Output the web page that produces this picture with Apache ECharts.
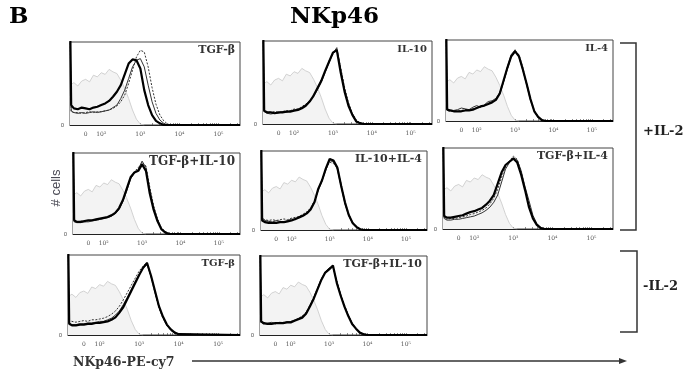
<!DOCTYPE html>
<html>
<head>
<meta charset="utf-8">
<script src="https://cdn.jsdelivr.net/npm/echarts@6.0.0/dist/echarts.min.js"></script>
<style>
  html, body { margin: 0; padding: 0; background: #fff; }
  #main { width: 688px; height: 374px; }
</style>
</head>
<body>
<div id="main"></div>
<script>
// x in display units of the biexponential axis: 2 = 10^2, 3 = 10^3 ...
const X_GRID = [1.2, 1.23, 1.3, 1.4, 1.5, 1.6, 1.7, 1.8, 1.9, 2.0, 2.1, 2.2, 2.3, 2.4, 2.5, 2.6, 2.7, 2.8, 2.9, 3.0, 3.1, 3.2, 3.3, 3.4, 3.5, 3.6, 3.7, 3.8, 3.9, 4.0, 5.55];

// isotype control (grey filled), same in every panel
const ISO_X = [1.2, 1.3, 1.4, 1.5, 1.6, 1.7, 1.8, 1.9, 2.0, 2.1, 2.2, 2.3, 2.4, 2.5, 2.6, 2.7, 2.8, 2.9, 3.0, 3.1];
const ISO_Y = [48, 51, 47, 53, 55, 52, 60, 58, 63, 61, 67, 64, 62, 54, 44, 32, 18, 7, 1, 0];

const X_TICKS = [1.6, 2, 3, 4, 5];
const X_TICK_LABELS = ['0', '10²', '10³', '10⁴', '10⁵'];
const MINOR_OFFSETS = [0.301, 0.477, 0.602, 0.699, 0.778, 0.845, 0.903, 0.954];
const LINEAR_TICKS = [1.3, 1.4, 1.5, 1.6, 1.7, 1.8, 1.9];

const PANEL_NAMES = ['TGF-β', 'IL-10', 'IL-4', 'TGF-β+IL-10', 'IL-10+IL-4', 'TGF-β+IL-4', 'TGF-β', 'TGF-β+IL-10'];

const P1_THICK = [140,24,20,19,21,20,19,21,22,24, 26,29,34,40,48,61,74,79,78,68, 42,24,12,5,2,0,0,0,0,0,0];
const P1_THIN  = [130,17,15,14,15,14,15,16,15,16, 17,18,21,24,32,42,56,70,78,80, 70,48,28,14,6,2,0,0,0,0,0];
const P1_DASH  = [120,16,15,15,14,15,16,15,16,16, 17,18,20,23,28,36,50,66,82,90, 88,70,45,25,12,5,1,0,0,0,0];

const P2_THICK = [140,16,14,14,13,14,14,15,15,16, 17,19,22,27,34,43,52,64,75,86, 89,62,39,22,11,3,1,0,0,0,0];
const P2_THIN  = [130,15,13,12,13,13,15,14,16,17, 18,20,23,28,33,41,50,62,74,85, 92,66,42,24,12,4,1,0,0,0,0];
const P2_DASH  = [120,17,15,14,15,14,15,16,16,18, 18,21,24,27,35,42,53,63,76,84, 90,68,44,26,13,5,1,0,0,0,0];

const P3_THICK = [140,14,13,12,12,12,13,13,14,16, 18,19,21,23,26,34,50,66,80,86, 80,64,46,27,12,5,1,0,0,0,0];
const P3_THIN  = [130,15,14,13,14,16,15,14,17,19, 17,20,24,25,28,35,49,67,82,88, 79,63,45,26,12,4,1,0,0,0,0];
const P3_DASH  = [120,13,12,13,12,13,14,14,15,16, 17,19,22,24,27,33,48,64,79,85, 82,66,47,28,13,5,1,0,0,0,0];

const P4_THICK = [140,17,15,15,16,17,17,18,19,20, 21,23,26,32,42,56,70,76,78,86, 78,50,30,16,6,2,0,0,0,0,0];
const P4_THIN  = [130,15,14,14,15,15,16,17,18,19, 20,22,25,30,40,53,68,75,80,90, 82,55,33,18,7,2,0,0,0,0,0];
const P4_DASH  = [120,16,15,16,15,16,17,17,18,20, 21,23,26,31,41,55,69,77,82,88, 84,58,35,19,8,3,1,0,0,0,0];

const P5_THICK = [140,12,10,9,9,9,10,10,11,12, 14,16,18,21,26,35,52,63,78,90, 88,79,56,35,19,9,4,1,0,0,0];
const P5_THIN  = [130,14,12,11,10,12,11,10,12,14, 13,17,19,22,27,36,50,62,76,88, 86,77,55,33,18,8,3,1,0,0,0];
const P5_DASH  = [120,15,13,12,13,12,13,14,13,15, 16,17,20,23,28,37,51,64,77,86, 84,80,58,36,20,10,4,1,0,0,0];

const P6_THICK = [140,16,14,14,15,16,17,19,21,22, 24,26,30,35,42,56,70,79,83,87, 82,67,48,27,13,5,1,0,0,0,0];
const P6_THIN  = [130,13,11,11,12,12,13,14,15,16, 18,20,23,27,33,42,58,74,82,88, 85,72,52,35,17,7,2,0,0,0,0];
const P6_DASH  = [120,14,12,13,13,14,15,16,18,19, 21,23,26,31,38,49,64,77,84,90, 86,70,50,31,15,6,2,0,0,0,0];

const P7_THICK = [140,14,12,12,13,13,14,14,15,15, 16,17,19,22,28,35,45,55,65,75, 84,90,74,55,36,23,13,7,3,1,0];
const P7_THIN  = [130,15,13,13,14,14,15,15,16,17, 17,19,21,25,30,38,47,57,67,76, 84,88,73,54,35,22,12,6,2,1,0];
const P7_DASH  = [120,18,17,16,17,18,17,19,19,20, 21,23,26,30,36,44,53,62,71,80, 86,91,72,53,34,21,12,6,2,1,0];

const P8_THICK = [140,17,15,14,14,15,15,15,16,16, 18,20,22,27,36,46,58,70,79,83, 88,66,50,36,24,14,8,3,1,0,0];
const P8_THIN  = [130,16,14,15,16,14,16,15,17,17, 19,21,23,28,37,47,59,71,80,85, 87,67,51,37,25,15,8,3,1,0,0];
const P8_DASH  = [120,15,14,14,15,15,16,16,16,17, 18,21,24,29,38,48,60,71,79,84, 86,69,52,38,25,15,8,3,1,0,0];

const THICK = [P1_THICK, P2_THICK, P3_THICK, P4_THICK, P5_THICK, P6_THICK, P7_THICK, P8_THICK];
const THIN  = [P1_THIN, P2_THIN, P3_THIN, P4_THIN, P5_THIN, P6_THIN, P7_THIN, P8_THIN];
const DASH  = [P1_DASH, P2_DASH, P3_DASH, P4_DASH, P5_DASH, P6_DASH, P7_DASH, P8_DASH];

// panel boxes: left, top, width, height
const BOXES = [
  [70, 42, 170, 83], [263, 41, 169, 83], [446, 40, 167, 81],
  [73, 153, 167, 81], [261, 151, 166, 79], [443, 148, 170, 81],
  [68, 255, 172, 80], [260, 256, 167, 79]
];
const LABEL_SIZE = [11, 10, 10, 12, 11, 11, 10, 11];

const minorTicks = LINEAR_TICKS.slice();
[2, 3, 4, 5].forEach(d => {
  minorTicks.push(d);
  MINOR_OFFSETS.forEach(o => { if (d + o < 5.55) minorTicks.push(d + o); });
});

const pairs = (xs, ys) => xs.map((x, k) => [x, ys[k]]);

const chart = echarts.init(document.getElementById('main'));
const grids = [], xAxes = [], yAxes = [], series = [];
const titles = [
  { text: 'B', left: 9, top: 6, padding: 0,
    textStyle: { fontFamily: 'DejaVu Serif', fontWeight: 'bold', fontSize: 23, color: '#000' } },
  { text: 'NKp46', left: 290, top: 6, padding: 0,
    textStyle: { fontFamily: 'DejaVu Serif', fontWeight: 'bold', fontSize: 23, color: '#000' } }
];

BOXES.forEach((b, i) => {
  grids.push({
    left: b[0], top: b[1], width: b[2], height: b[3],
    show: true, borderColor: '#444', borderWidth: 1, outerBoundsMode: 'none'
  });
  xAxes.push({
    type: 'value', gridIndex: i, min: 1.2, max: 5.55,
    axisLine: { show: true, onZero: false, lineStyle: { color: '#222', width: 1 } },
    axisTick: { show: true, inside: true, length: 2, customValues: minorTicks,
      lineStyle: { color: '#444', width: 0.6 } },
    axisLabel: {
      customValues: X_TICKS,
      formatter: v => X_TICK_LABELS[X_TICKS.findIndex(t => Math.abs(t - v) < 1e-6)],
      fontSize: 6, color: '#555', margin: 6, fontFamily: 'DejaVu Serif'
    },
    splitLine: { show: false }
  });
  yAxes.push({
    type: 'value', gridIndex: i, min: 0, max: 100,
    axisLine: { show: false }, axisTick: { show: false }, splitLine: { show: false },
    axisLabel: { customValues: [0], fontSize: 6, color: '#555', margin: 6 }
  });
  series.push({
    type: 'line', xAxisIndex: i, yAxisIndex: i, data: pairs(ISO_X, ISO_Y),
    showSymbol: false, silent: true, z: 1,
    lineStyle: { color: '#c8c8c8', width: 0.8 },
    areaStyle: { color: '#f3f3f3', opacity: 1 }
  });
  series.push({
    type: 'line', xAxisIndex: i, yAxisIndex: i, data: pairs(X_GRID, DASH[i]),
    showSymbol: false, silent: true, z: 2,
    lineStyle: { color: '#333', width: 1, type: [2, 1.5] }
  });
  series.push({
    type: 'line', xAxisIndex: i, yAxisIndex: i, data: pairs(X_GRID, THIN[i]),
    showSymbol: false, silent: true, z: 3,
    lineStyle: { color: '#333', width: 1 }
  });
  series.push({
    type: 'line', xAxisIndex: i, yAxisIndex: i, data: pairs(X_GRID, THICK[i]),
    showSymbol: false, silent: true, z: 4,
    lineStyle: { color: '#000', width: 2.2 }
  });
  titles.push({
    text: PANEL_NAMES[i], right: 688 - (b[0] + b[2]) + 5, top: b[1] + 3, padding: 0,
    textStyle: { fontFamily: 'DejaVu Serif', fontWeight: 'bold', fontSize: LABEL_SIZE[i], color: '#333' }
  });
});

chart.setOption({
  animation: false,
  title: titles,
  grid: grids,
  xAxis: xAxes,
  yAxis: yAxes,
  series: series,
  graphic: [
    { type: 'polyline', shape: { points: [[620, 43], [636, 43], [636, 230], [620, 230]] },
      style: { stroke: '#333', lineWidth: 1.5, fill: null } },
    { type: 'polyline', shape: { points: [[620, 251], [637, 251], [637, 332], [620, 332]] },
      style: { stroke: '#333', lineWidth: 1.5, fill: null } },
    { type: 'text', x: 643, y: 132,
      style: { text: '+IL-2', fontFamily: 'DejaVu Serif', fontWeight: 'bold', fontSize: 13,
        fill: '#222', verticalAlign: 'middle' } },
    { type: 'text', x: 643, y: 287,
      style: { text: '-IL-2', fontFamily: 'DejaVu Serif', fontWeight: 'bold', fontSize: 13,
        fill: '#222', verticalAlign: 'middle' } },
    { type: 'text', x: 56, y: 188, rotation: Math.PI / 2,
      style: { text: '# cells', fontFamily: 'Liberation Sans', fontSize: 13, fill: '#4a4a55',
        align: 'center', verticalAlign: 'middle' } },
    { type: 'text', x: 73, y: 363,
      style: { text: 'NKp46-PE-cy7', fontFamily: 'DejaVu Serif', fontWeight: 'bold', fontSize: 12.5,
        fill: '#333', verticalAlign: 'middle' } },
    { type: 'line', shape: { x1: 192, y1: 361, x2: 621, y2: 361 },
      style: { stroke: '#333', lineWidth: 1.5 } },
    { type: 'polygon', shape: { points: [[619, 358], [627, 361], [619, 364]] },
      style: { fill: '#333' } }
  ]
});
</script>
</body>
</html>
